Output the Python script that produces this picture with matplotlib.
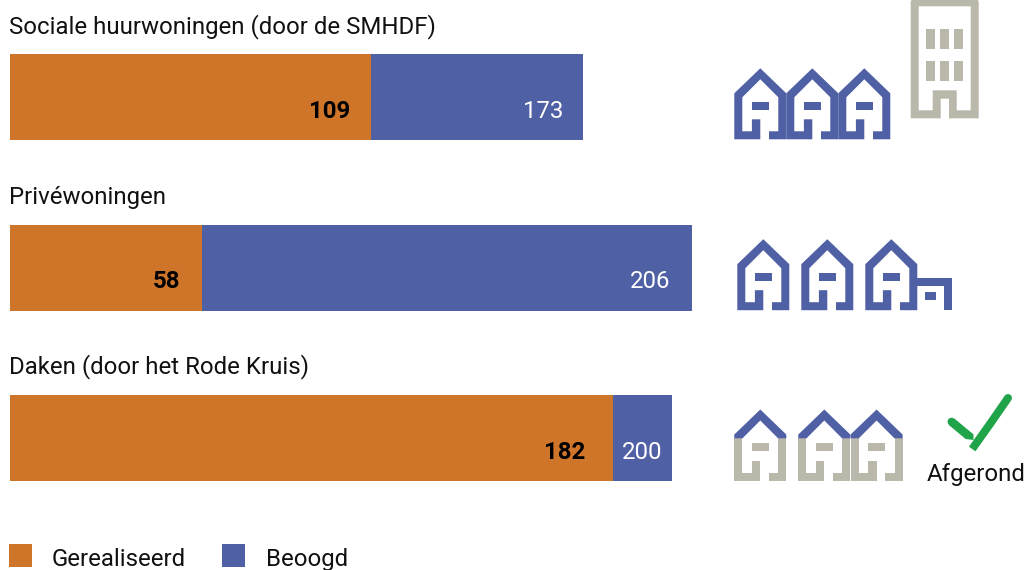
import matplotlib
matplotlib.use("Agg")
import matplotlib.pyplot as plt
from matplotlib.patches import PathPatch, Polygon, Rectangle
from matplotlib.path import Path

plt.rcParams['font.family'] = ['Roboto', 'DejaVu Sans']

# ---- data ----
categories = ["Sociale huurwoningen (door de SMHDF)", "Privéwoningen", "Daken (door het Rode Kruis)"]
realised = [109, 58, 182]
target = [173, 206, 200]
legend_labels = ["Gerealiseerd", "Beoogd"]
completed_label = "Afgerond"

# ---- style ----
ORANGE = "#CF752A"
BLUE = "#5060A5"
GREY = "#BAB7AB"
GREEN = "#20A44A"
TEXT = "#111111"
W, H = 1025, 570
FS = 17.25

fig = plt.figure(figsize=(W / 100, H / 100), dpi=100, facecolor="white")

# bar axes: value scale with 3.312 px per unit starting at x=10 px
ax = fig.add_axes([10 / W, 0, (W - 10) / W, 1])
ax.set_xlim(0, (W - 10) / 3.312)
ax.set_ylim((570 - 97) / 170.5, (0 - 97) / 170.5)
ax.axis("off")
y = list(range(len(categories)))
bar_h = 86 / 170.5
ax.barh(y, target, height=bar_h, color=BLUE, linewidth=0)
ax.barh(y, realised, height=bar_h, color=ORANGE, linewidth=0)

real_off = [-21, -22, -28]
targ_off = [-20, -22, -10]
for i in y:
    ax.annotate(str(realised[i]), (realised[i], i), xytext=(real_off[i] * .72, -15.1), textcoords="offset points",
                ha="right", va="baseline", fontsize=FS, fontweight="bold", color="black")
    ax.annotate(str(target[i]), (target[i], i), xytext=(targ_off[i] * .72, -15.1), textcoords="offset points",
                ha="right", va="baseline", fontsize=FS, color="white")

# overlay in pixel coordinates for titles, legend and pictograms
ov = fig.add_axes([0, 0, 1, 1], facecolor="none")
ov.set_xlim(0, W)
ov.set_ylim(H, 0)
ov.axis("off")

for name, base in zip(categories, [33.5, 204, 373.5]):
    ov.text(9, base, name, fontsize=FS, color=TEXT, va="baseline")

ov.add_patch(Rectangle((9, 544), 23, 23, color=ORANGE, lw=0))
ov.add_patch(Rectangle((222, 544), 23, 23, color=BLUE, lw=0))
ov.text(52, 566, legend_labels[0], fontsize=FS, color=TEXT, va="baseline")
ov.text(265.5, 566, legend_labels[1], fontsize=FS, color=TEXT, va="baseline")
ov.text(927, 481, completed_label, fontsize=FS, color=TEXT, va="baseline")

# pictograms
HOUSE = [(26, 0), (52, 25), (52, 71), (34.7, 71), (34.7, 63), (44, 63), (44, 29), (26, 11), (8, 29),
         (8, 63), (17.6, 63), (17.6, 51), (26, 51), (26, 71), (0, 71), (0, 25)]
ROOF = [(26, 0), (52, 25), (52, 28.8), (44, 28.8), (44, 29), (26, 11), (8, 29), (8, 28.8), (0, 28.8), (0, 25)]
BODY = [(52, 28.8), (52, 71), (34.7, 71), (34.7, 63), (44, 63), (44, 28.8)]
BODY2 = [(8, 28.8), (8, 63), (17.6, 63), (17.6, 51), (26, 51), (26, 71), (0, 71), (0, 28.8)]
WINDOW = [(17.7, 33.7), (34.7, 33.7), (34.7, 41.7), (17.7, 41.7)]


def shape(points, x0, y0, color):
    ov.add_patch(Polygon([(x0 + a, y0 + b) for a, b in points], closed=True, fc=color, ec="none", lw=0))


def house(x0, y0, walls=BLUE):
    if walls == BLUE:
        shape(HOUSE, x0, y0, BLUE)
        shape(WINDOW, x0, y0, BLUE)
    else:
        shape(BODY, x0, y0, walls)
        shape(BODY2, x0, y0, walls)
        shape(WINDOW, x0, y0, walls)
        shape(ROOF, x0, y0, BLUE)


for x0 in (734.3, 786.3, 838.3):
    house(x0, 68.3)
for x0 in (737.3, 801.3, 865.3):
    house(x0, 239.2)
for x0 in (734.3, 798.3, 850.6):
    house(x0, 409.5, GREY)

# garage
shape([(917.3, 277.7), (952, 277.7), (952, 310.3), (944, 310.3), (944, 285.7), (917.3, 285.7)], 0, 0, BLUE)
shape([(925, 292), (936, 292), (936, 300), (925, 300)], 0, 0, BLUE)

# apartment block
verts = [(940.7, 118.3), (910.7, 118.3), (910.7, 3), (910.7, -1.7), (915.5, -1.7), (974, -1.7), (978.7, -1.7),
         (978.7, 3), (978.7, 118.3), (949, 118.3), (949, 98.7), (940.7, 98.7), (940.7, 118.3),
         (918.7, 6.3), (918.7, 110.3), (932.7, 110.3), (932.7, 90.3), (956.7, 90.3), (956.7, 110.3),
         (970.7, 110.3), (970.7, 6.3), (918.7, 6.3)]
codes = [Path.MOVETO, Path.LINETO, Path.LINETO, Path.CURVE3, Path.CURVE3, Path.LINETO, Path.CURVE3, Path.CURVE3,
         Path.LINETO, Path.LINETO, Path.LINETO, Path.LINETO, Path.CLOSEPOLY,
         Path.MOVETO, Path.LINETO, Path.LINETO, Path.LINETO, Path.LINETO, Path.LINETO,
         Path.LINETO, Path.LINETO, Path.CLOSEPOLY]
ov.add_patch(PathPatch(Path(verts, codes), fc=GREY, ec="none", lw=0))
for wx in (926, 940, 954):
    for wy in (29, 61):
        ov.add_patch(Rectangle((wx, wy), 9, 20, fc=GREY, ec="none", lw=0))

# check mark
lw = 8.0 * 0.72
ov.plot([1008, 990], [398, 424], color=GREEN, lw=lw, solid_capstyle="round")
ov.plot([990, 972.2], [424, 449], color=GREEN, lw=lw, solid_capstyle="butt")
ov.plot([951.5, 952], [421.7, 422.1], color=GREEN, lw=lw, solid_capstyle="round")
shape([(954.2, 418.4), (973.5, 434.4), (973.5, 440), (965.7, 439), (948.8, 425)], 0, 0, GREEN)

fig.savefig("out.png", dpi=100, facecolor="white")
